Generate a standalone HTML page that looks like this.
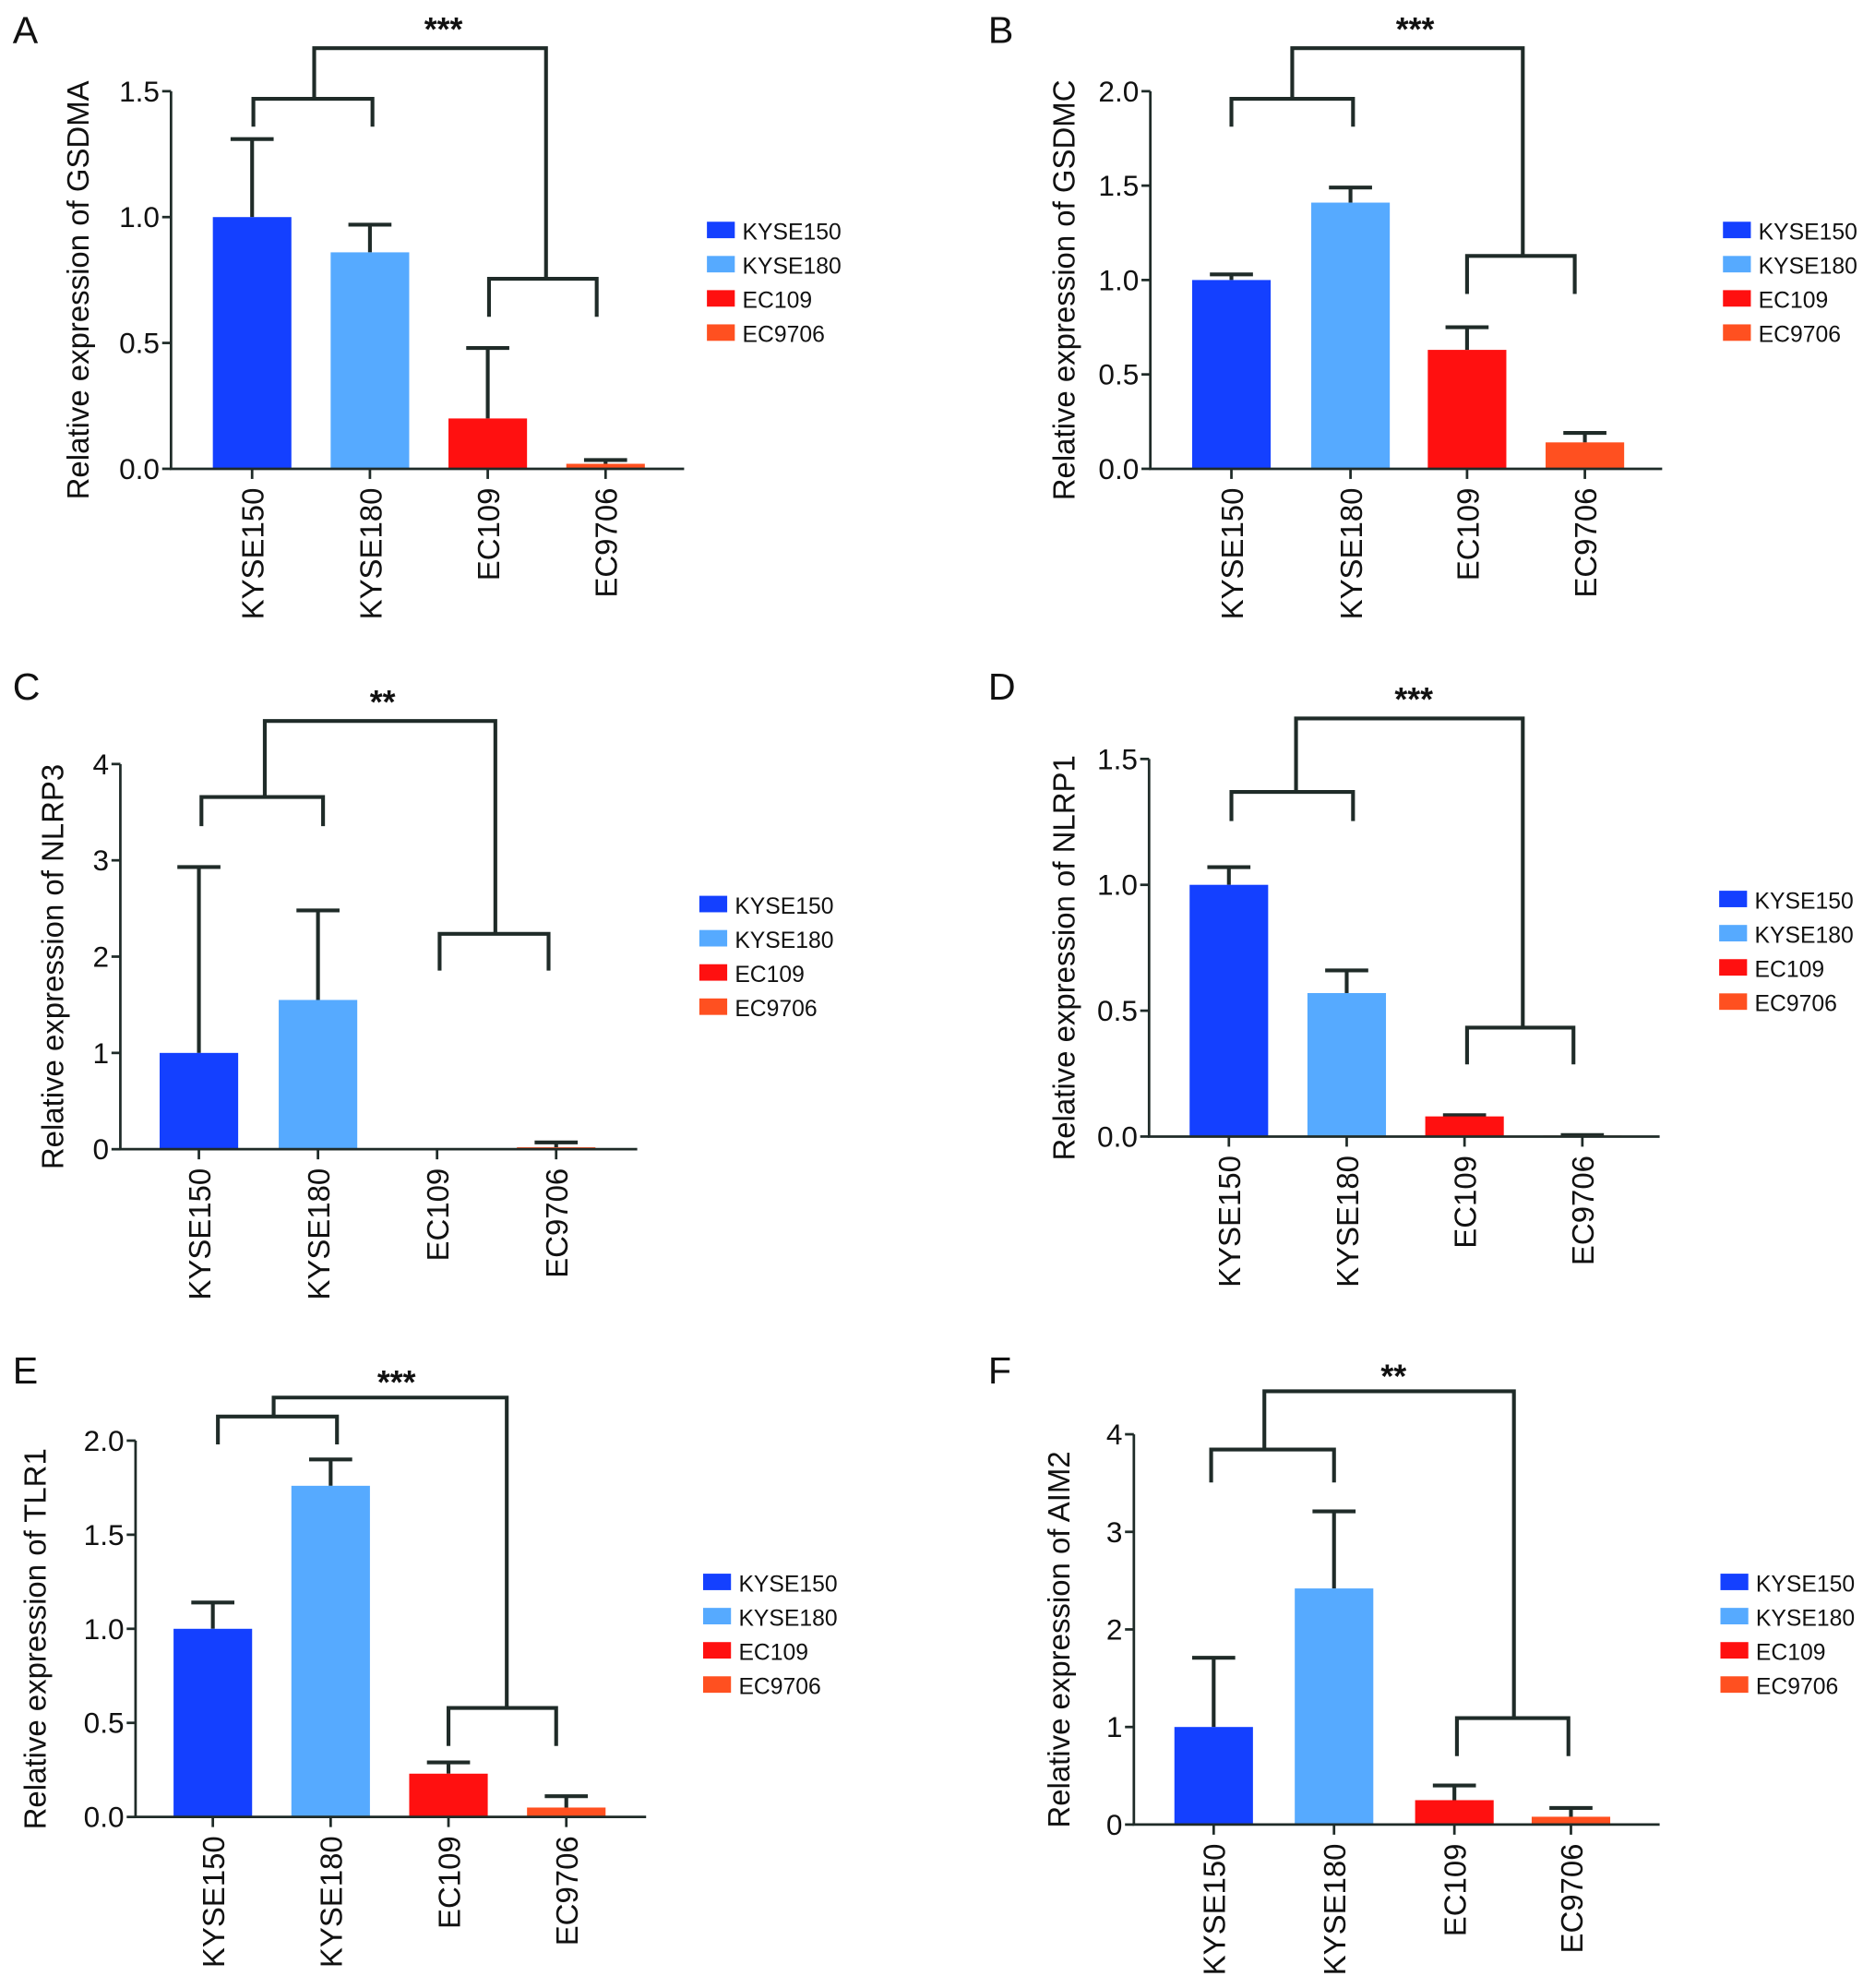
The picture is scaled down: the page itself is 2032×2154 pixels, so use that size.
<!DOCTYPE html>
<html><head><meta charset="utf-8"><style>
html,body{margin:0;padding:0;background:#fff;}
svg{display:block;}
text{font-family:"Liberation Sans",Arial,sans-serif;fill:#111;}
</style></head>
<body>
<svg id="fig" width="2032" height="2154" viewBox="0 0 1480 1569" preserveAspectRatio="none" xmlns="http://www.w3.org/2000/svg"></svg>
<script>
const categories = ["KYSE150","KYSE180","EC109","EC9706"];
const colors = ["#1440ff","#56aaff","#ff1010","#ff5020"];
const gsdmaValues = [1.0, 0.86, 0.2, 0.02];
const gsdmaErrors = [1.31, 0.97, 0.48, 0.035];
const gsdmcValues = [1.0, 1.41, 0.63, 0.14];
const gsdmcErrors = [1.03, 1.49, 0.75, 0.19];
const nlrp3Values = [1.0, 1.55, 0, 0.02];
const nlrp3Errors = [2.93, 2.48, 0, 0.07];
const nlrp1Values = [1.0, 0.57, 0.08, 0.004];
const nlrp1Errors = [1.07, 0.66, 0.085, 0.006];
const tlr1Values = [1.0, 1.76, 0.23, 0.05];
const tlr1Errors = [1.14, 1.9, 0.29, 0.11];
const aim2Values = [1.0, 2.42, 0.25, 0.08];
const aim2Errors = [1.71, 3.21, 0.4, 0.17];
const ticksA = ["0.0","0.5","1.0","1.5"];
const ticksB = ["0.0","0.5","1.0","1.5","2.0"];
const ticksC = ["0","1","2","3","4"];
const ticksD = ["0.0","0.5","1.0","1.5"];
const ticksE = ["0.0","0.5","1.0","1.5","2.0"];
const ticksF = ["0","1","2","3","4"];

const panels = [
 {id:"a",letter:"A",lx:10,ly:34,ax:135,y0:370,ytop:72,ymax:1.5,xend:540,cx:[199,292,385,478],vals:gsdmaValues,errs:gsdmaErrors,ticks:ticksA,title:"Relative expression of GSDMA",tx:62,legX:558,legY:182,stars:"***",sx:350,sy:32,
  br:{top:38,tl:248,tr:431,l:[78,200,294,100],r:[220,386,471,250]}},
 {id:"b",letter:"B",lx:780,ly:34,ax:908,y0:370,ytop:72,ymax:2.0,xend:1312,cx:[972,1066,1158,1251],vals:gsdmcValues,errs:gsdmcErrors,ticks:ticksB,title:"Relative expression of GSDMC",tx:840,legX:1360,legY:182,stars:"***",sx:1117,sy:32,
  br:{top:38,tl:1020,tr:1202,l:[78,972,1068,100],r:[202,1158,1243,232]}},
 {id:"c",letter:"C",lx:10,ly:552,ax:95,y0:907,ytop:603,ymax:4,xend:503,cx:[157,251,345,439],vals:nlrp3Values,errs:nlrp3Errors,ticks:ticksC,title:"Relative expression of NLRP3",tx:42,legX:552,legY:714,stars:"**",sx:302,sy:563,
  br:{top:569,tl:209,tr:391,l:[629,159,255,652],r:[737,347,433,766]}},
 {id:"d",letter:"D",lx:780,ly:552,ax:907,y0:897,ytop:599,ymax:1.5,xend:1310,cx:[970,1063,1156,1249],vals:nlrp1Values,errs:nlrp1Errors,ticks:ticksD,title:"Relative expression of NLRP1",tx:840,legX:1357,legY:710,stars:"***",sx:1116,sy:561,
  br:{top:567,tl:1023,tr:1202,l:[625,972,1068,648],r:[811,1158,1242,840]}},
 {id:"e",letter:"E",lx:10,ly:1092,ax:107,y0:1434,ytop:1137,ymax:2.0,xend:510,cx:[168,261,354,447],vals:tlr1Values,errs:tlr1Errors,ticks:ticksE,title:"Relative expression of TLR1",tx:28,legX:555,legY:1249,stars:"***",sx:313,sy:1100,
  br:{top:1103,tl:216,tr:400,l:[1118,172,266,1140],r:[1348,354,439,1378]}},
 {id:"f",letter:"F",lx:780,ly:1092,ax:895,y0:1440,ytop:1132,ymax:4,xend:1310,cx:[958,1053,1148,1240],vals:aim2Values,errs:aim2Errors,ticks:ticksF,title:"Relative expression of AIM2",tx:836,legX:1358,legY:1249,stars:"**",sx:1100,sy:1095,
  br:{top:1098,tl:998,tr:1195,l:[1144,956,1053,1170],r:[1356,1150,1238,1386]}}
];
const NS="http://www.w3.org/2000/svg";
const svg=document.getElementById("fig");
function mk(tag,attrs,parent){const e=document.createElementNS(NS,tag);for(const k in attrs)e.setAttribute(k,attrs[k]);(parent||svg).appendChild(e);return e;}
const LC="#1f2b28";
panels.forEach(p=>{
  const g=mk("g",{});
  
  
  const yS=v=>p.y0-(v/p.ymax)*(p.y0-p.ytop);
  const lt=mk("text",{x:p.lx,y:p.ly,"font-size":30},g);lt.textContent=p.letter;
  
  
  p.vals.forEach((v,i)=>{
    const x=p.cx[i];
    const eTop=yS(p.errs[i]);
    if(p.errs[i]>v){
      const el=mk("path",{d:`M${x},${yS(v)}V${eTop}M${x-17},${eTop}H${x+17}`,stroke:LC,"stroke-width":3,fill:"none"},g);
      
      
    }
    const b=mk("rect",{x:x-31,y:yS(v),width:62,height:Math.max(0,p.y0-yS(v)),fill:colors[i]},g);
    
    
    const t=mk("text",{x:0,y:0,"font-size":24,"text-anchor":"end",transform:`translate(${x+9},${p.y0+15}) rotate(-90)`},g);
    t.textContent=categories[i];
    
    
    mk("line",{x1:x,x2:x,y1:p.y0,y2:p.y0+8,stroke:LC,"stroke-width":2},g);
  });
  const ax=mk("path",{d:`M${p.ax},${p.ytop}V${p.y0}H${p.xend}`,stroke:LC,"stroke-width":2,fill:"none"},g);
  
  
  p.ticks.forEach((tl,i)=>{
    const v=i*p.ymax/(p.ticks.length-1);const y=yS(v);
    mk("line",{x1:p.ax-7,x2:p.ax,y1:y,y2:y,stroke:LC,"stroke-width":2},g);
    const t=mk("text",{x:p.ax-9,y:y+8,"font-size":23,"text-anchor":"end"},g);t.textContent=tl;
    
    
  });
  const yt=mk("text",{x:0,y:0,"font-size":24,"text-anchor":"middle",transform:`translate(${p.tx+8},${(p.y0+p.ytop)/2+8}) rotate(-90)`},g);
  yt.textContent=p.title;
  
  
  const br=p.br;
  const bp=mk("path",{d:`M${br.l[1]},${br.l[3]}V${br.l[0]}H${br.l[2]}V${br.l[3]}M${br.r[1]},${br.r[3]}V${br.r[0]}H${br.r[2]}V${br.r[3]}M${br.tl},${br.l[0]}V${br.top}H${br.tr}V${br.r[0]}`,stroke:LC,"stroke-width":3,fill:"none"},g);
  
  
  const st=mk("text",{x:p.sx,y:p.sy,"font-size":26,"text-anchor":"middle","font-weight":"bold"},g);st.textContent=p.stars;
  
  
  categories.forEach((c,i)=>{
    const y=p.legY+i*27;
    const r=mk("rect",{x:p.legX,y:y-7,width:22,height:13,fill:colors[i]},g);
    
    
    const t=mk("text",{x:p.legX+28,y:y+7,"font-size":18},g);t.textContent=c;
    
    
  });
});
</script>
</body></html>
